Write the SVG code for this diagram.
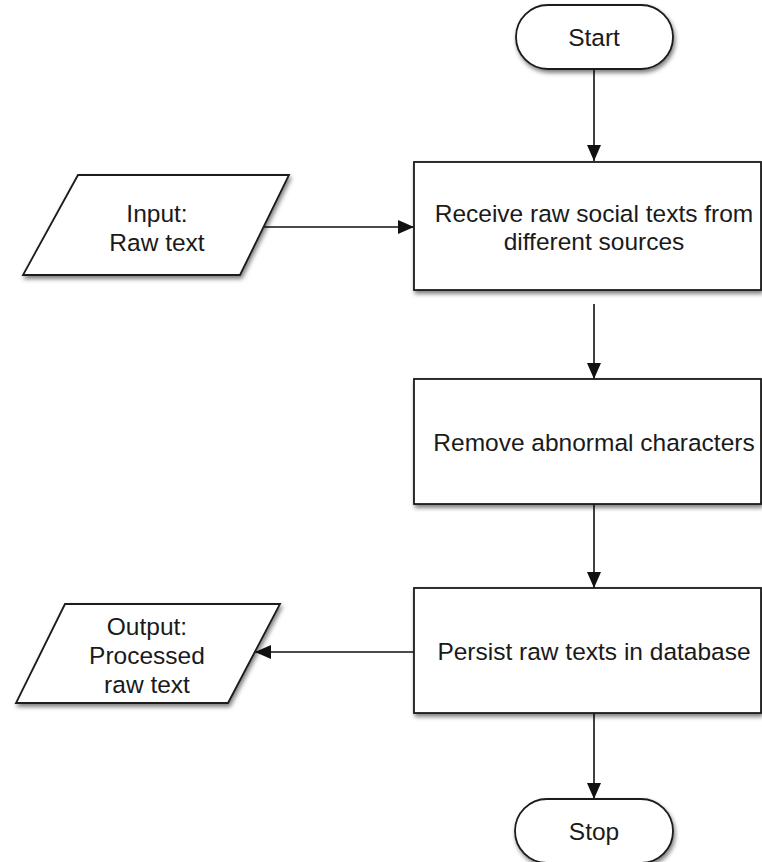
<svg xmlns="http://www.w3.org/2000/svg" width="762" height="862" viewBox="0 0 762 862">
  <defs>
    <filter id="shadow" x="-10%" y="-10%" width="130%" height="140%">
      <feDropShadow dx="1.5" dy="3" stdDeviation="2" flood-color="#000" flood-opacity="0.5"/>
    </filter>
    <marker id="arrow" markerUnits="userSpaceOnUse" markerWidth="16" markerHeight="14" refX="16" refY="7" orient="auto">
      <path d="M0,0 L16,7 L0,14 Z" fill="#111"/>
    </marker>
  </defs>
  <style>
    .shape { fill: #fff; stroke: #1a1a1a; stroke-width: 1.8; filter: url(#shadow); }
    .label { font-family: "Liberation Sans", Arial, Helvetica, sans-serif; font-size: 24.5px; fill: #1a1a1a; text-anchor: middle; }
    .edge { fill: none; stroke: #111; stroke-width: 1.6; marker-end: url(#arrow); }
  </style>
  <rect width="762" height="862" fill="#fff"/>

  <!-- connectors -->
  <g id="connectors">
    <line class="edge" x1="594" y1="69" x2="594" y2="161"/>
    <line class="edge" x1="264" y1="227" x2="414" y2="227"/>
    <line class="edge" x1="594" y1="304" x2="594" y2="379"/>
    <line class="edge" x1="594" y1="504" x2="594" y2="588"/>
    <line class="edge" x1="414" y1="652" x2="255" y2="652"/>
    <line class="edge" x1="594" y1="713" x2="594" y2="799"/>
  </g>

  <g id="start">
    <rect class="shape" x="516" y="5" width="157" height="64" rx="32" ry="32"/>
    <text class="label" x="594" y="46">Start</text>
  </g>

  <g id="input">
    <polygon class="shape" points="78,175 289,175 240,275 23,275"/>
    <text class="label" x="157" y="222">Input:</text>
    <text class="label" x="157" y="251">Raw text</text>
  </g>

  <g id="receive">
    <rect class="shape" x="414" y="162" width="347" height="128"/>
    <text class="label" x="594" y="222">Receive raw social texts from</text>
    <text class="label" x="594" y="250">different sources</text>
  </g>

  <g id="remove">
    <rect class="shape" x="414" y="379" width="347" height="125"/>
    <text class="label" x="594" y="451">Remove abnormal characters</text>
  </g>

  <g id="persist">
    <rect class="shape" x="414" y="588" width="347" height="125"/>
    <text class="label" x="594" y="660">Persist raw texts in database</text>
  </g>

  <g id="output">
    <polygon class="shape" points="65,604 280,604 228,703 16,703"/>
    <text class="label" x="147" y="635">Output:</text>
    <text class="label" x="147" y="664">Processed</text>
    <text class="label" x="147" y="693">raw text</text>
  </g>

  <g id="stop">
    <rect class="shape" x="515" y="799" width="158" height="64" rx="32" ry="32"/>
    <text class="label" x="594" y="840">Stop</text>
  </g>
</svg>
